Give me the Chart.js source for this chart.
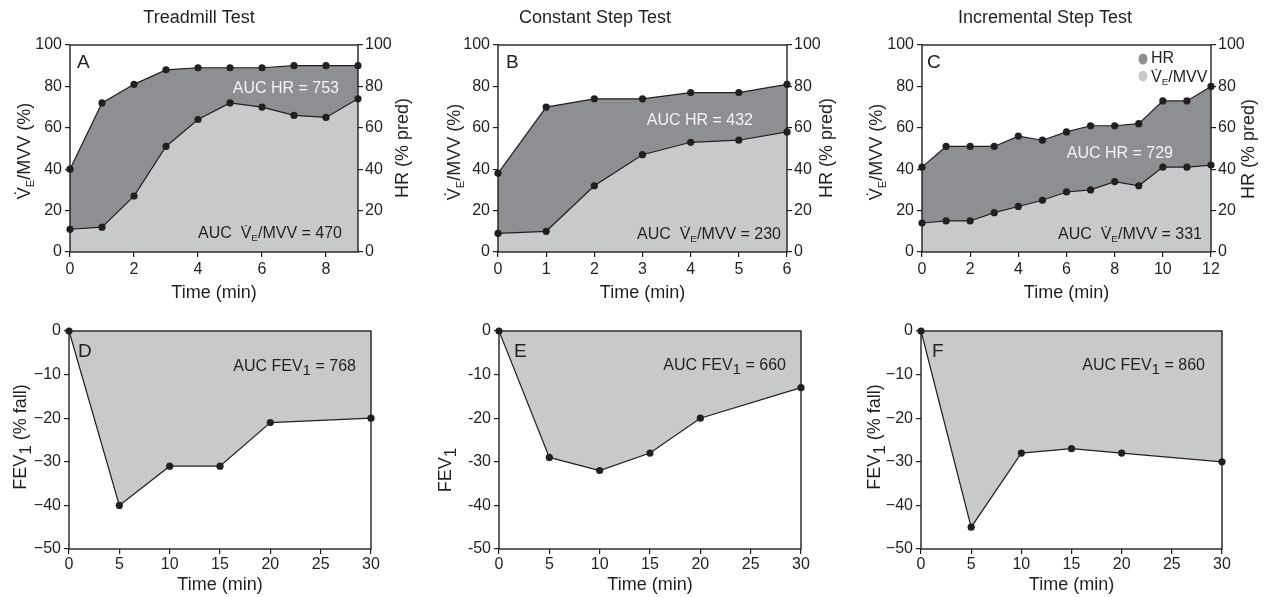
<!DOCTYPE html>
<html><head><meta charset="utf-8">
<script src="https://cdn.jsdelivr.net/npm/chart.js@4.4.1/dist/chart.umd.min.js"></script>
<style>
html,body{margin:0;padding:0;background:#fff;width:1273px;height:597px;overflow:hidden}
canvas{position:absolute;left:0;top:0}
</style></head><body>
<canvas id="cA" width="1273" height="597"></canvas>
<canvas id="cB" width="1273" height="597"></canvas>
<canvas id="cC" width="1273" height="597"></canvas>
<canvas id="cD" width="1273" height="597"></canvas>
<canvas id="cE" width="1273" height="597"></canvas>
<canvas id="cF" width="1273" height="597"></canvas>
<script>
// ---------- data ----------
const panelTitles = ['Treadmill Test', 'Constant Step Test', 'Incremental Step Test'];
const timeA = [0,1,2,3,4,5,6,7,8,9];
const hrA   = [40,72,81,88,89,89,89,90,90,90];
const veA   = [11,12,27,51,64,72,70,66,65,74];
const timeB = [0,1,2,3,4,5,6];
const hrB   = [38,70,74,74,77,77,81];
const veB   = [9,10,32,47,53,54,58];
const timeC = [0,1,2,3,4,5,6,7,8,9,10,11,12];
const hrC   = [41,51,51,51,56,54,58,61,61,62,73,73,80];
const veC   = [14,15,15,19,22,25,29,30,34,32,41,41,42];
const timeFev = [0,5,10,15,20,30];
const fevD = [0,-40,-31,-31,-21,-20];
const fevE = [0,-29,-32,-28,-20,-13];
const fevF = [0,-45,-28,-27,-28,-30];
const xTicksA = [0,2,4,6,8];
const xTicksB = [0,1,2,3,4,5,6];
const xTicksC = [0,2,4,6,8,10,12];
const xTicksFev = [0,5,10,15,20,25,30];
const yTicksTop = [0,20,40,60,80,100];
const yTicksFev = [0,-10,-20,-30,-40,-50];
const aucHR  = [753, 432, 729];
const aucVE  = [470, 230, 331];
const aucFEV = [768, 660, 860];

// ---------- style ----------
const W = 1273, H = 597;
const FONT = '"Liberation Sans", Arial, sans-serif';
const INK = '#231f20';
const DARK = '#8e8f92';
const LIGHT = '#c8c9cb';

function drawRich(ctx, segs, x, y, size, align, color, rot) {
  ctx.save();
  ctx.translate(x, y);
  if (rot) ctx.rotate(rot);
  ctx.fillStyle = color; ctx.textBaseline = 'alphabetic'; ctx.textAlign = 'left';
  const parts = segs.map(s => {
    const kind = typeof s === 'string' ? 'n' : s[1];
    const t = typeof s === 'string' ? s : s[0];
    const fs = kind === 's' ? size * 0.62 : kind === 'f' ? size * 0.95 : size;
    const dy = kind === 's' ? size * 0.2 : kind === 'f' ? size * 0.25 : 0;
    ctx.font = fs + 'px ' + FONT;
    return { t, fs, dy, w: ctx.measureText(t).width };
  });
  const total = parts.reduce((a, p) => a + p.w, 0);
  let cx = align === 'right' ? -total : align === 'center' ? -total / 2 : 0;
  for (const p of parts) { ctx.font = p.fs + 'px ' + FONT; ctx.fillText(p.t, cx, p.dy); cx += p.w; }
  ctx.restore();
}

const deco = {
  id: 'deco',
  afterDatasetsDraw(chart, args, opts) {
    const ctx = chart.ctx, a = chart.chartArea;
    ctx.save();
    ctx.strokeStyle = INK; ctx.lineWidth = 1.4;
    ctx.strokeRect(a.left, a.top, a.right - a.left, a.bottom - a.top);
    ctx.restore();
    (opts.legend || []).forEach(l => {
      ctx.save(); ctx.fillStyle = l.color; ctx.beginPath();
      ctx.ellipse(l.x, l.y, 4.5, 5.5, 0, 0, Math.PI * 2); ctx.fill(); ctx.restore();
    });
    (opts.texts || []).forEach(t => drawRich(ctx, t.segs, t.x, t.y, t.size, t.align, t.color || INK, t.rot || 0));
  }
};

function tickFmt(minus) {
  return v => (v < 0 ? (minus ? '\u2212' : '-') + Math.abs(v) : String(v));
}

function scaleY(pos, ticks, min, max, minus, width, pad) {
  return {
    type: 'linear', position: pos, min, max,
    afterBuildTicks: s => { s.ticks = ticks.map(v => ({ value: v })); },
    afterFit: s => { s.width = width; },
    grid: { display: true, drawOnChartArea: false, drawTicks: true, tickLength: 5, color: INK, lineWidth: 1.2 },
    border: { display: false },
    ticks: { color: INK, font: { family: FONT, size: 16 }, padding: pad, callback: tickFmt(minus) }
  };
}
function scaleX(ticks, max, pad) {
  return {
    type: 'linear', position: 'bottom', min: 0, max,
    afterBuildTicks: s => { s.ticks = ticks.map(v => ({ value: v })); },
    afterFit: s => { s.height = 40; },
    grid: { display: true, drawOnChartArea: false, drawTicks: true, tickLength: 5, color: INK, lineWidth: 1.2 },
    border: { display: false },
    ticks: { color: INK, font: { family: FONT, size: 16 }, padding: pad, maxRotation: 0, autoSkip: false }
  };
}
function series(xs, ys, fillColor) {
  return {
    data: xs.map((x, i) => ({ x, y: ys[i] })),
    fill: 'origin', backgroundColor: fillColor,
    borderColor: INK, borderWidth: 1.2,
    pointRadius: 3.6, pointBackgroundColor: INK, pointBorderWidth: 0,
    tension: 0, clip: false
  };
}

const VE = (v) => ['AUC  V\u0307', ['E', 's'], '/MVV = ' + v];

const topPanels = [
  { id: 'cA', i: 0, box: { l: 70, t: 45, r: 358, b: 252 }, times: timeA, hr: hrA, ve: veA, xTicks: xTicksA, xMax: 9,
    titleX: 199, letter: 'A', letterX: 77, leftX: 30, leftY: 151, rightX: 408, rightY: 148,
    hrPos: [339, 93], vePos: [342, 238] },
  { id: 'cB', i: 1, box: { l: 498, t: 45, r: 787, b: 252 }, times: timeB, hr: hrB, ve: veB, xTicks: xTicksB, xMax: 6,
    titleX: 595, letter: 'B', letterX: 506, leftX: 460, leftY: 152, rightX: 832, rightY: 148,
    hrPos: [753, 125], vePos: [781, 239] },
  { id: 'cC', i: 2, box: { l: 922, t: 45, r: 1211, b: 252 }, times: timeC, hr: hrC, ve: veC, xTicks: xTicksC, xMax: 12,
    titleX: 1045, letter: 'C', letterX: 927, leftX: 882, leftY: 152, rightX: 1254, rightY: 149,
    hrPos: [1173, 158], vePos: [1202, 239] }
];

topPanels.forEach(p => {
  const texts = [
    { segs: [panelTitles[p.i]], x: p.titleX, y: 23, size: 18, align: 'center' },
    { segs: [p.letter], x: p.letterX, y: 68, size: 19, align: 'left' },
    { segs: ['AUC HR = ' + aucHR[p.i]], x: p.hrPos[0], y: p.hrPos[1], size: 16, align: 'right', color: '#f4f4f4' },
    { segs: VE(aucVE[p.i]), x: p.vePos[0], y: p.vePos[1], size: 16, align: 'right' },
    { segs: ['V\u0307', ['E', 's'], '/MVV (%)'], x: p.leftX, y: p.leftY, size: 18, align: 'center', rot: -Math.PI / 2 },
    { segs: ['HR (% pred)'], x: p.rightX, y: p.rightY, size: 18, align: 'center', rot: -Math.PI / 2 },
    { segs: ['Time (min)'], x: (p.box.l + p.box.r) / 2, y: 298, size: 18, align: 'center' }
  ];
  let legend = [];
  if (p.letter === 'C') {
    legend = [{ x: 1143, y: 59, color: DARK }, { x: 1143, y: 76, color: LIGHT }];
    texts.push({ segs: ['HR'], x: 1151, y: 63, size: 16, align: 'left' });
    texts.push({ segs: ['V\u0307', ['E', 's'], '/MVV'], x: 1151, y: 82, size: 16, align: 'left' });
  }
  new Chart(document.getElementById(p.id), {
    type: 'line',
    data: { datasets: [series(p.times, p.ve, LIGHT), series(p.times, p.hr, DARK)] },
    options: {
      responsive: false, animation: false, events: [],
      layout: { padding: { left: p.box.l - 50, right: W - p.box.r - 50, top: p.box.t, bottom: H - p.box.b - 40 } },
      scales: {
        x: scaleX(p.xTicks, p.xMax, 3),
        y: scaleY('left', yTicksTop, 0, 100, false, 50, 3),
        y1: scaleY('right', yTicksTop, 0, 100, false, 50, 2)
      },
      plugins: { legend: { display: false }, tooltip: { enabled: false }, deco: { texts, legend } }
    },
    plugins: [deco]
  });
});

const botPanels = [
  { id: 'cD', i: 0, box: { l: 69, t: 331, r: 371, b: 549 }, fev: fevD, minus: true, letter: 'D', letterX: 78,
    leftX: 26, leftY: 437, full: true, fevPos: [356, 371] },
  { id: 'cE', i: 1, box: { l: 499, t: 331, r: 801, b: 549 }, fev: fevE, minus: false, letter: 'E', letterX: 514,
    leftX: 451, leftY: 470, full: false, fevPos: [786, 370] },
  { id: 'cF', i: 2, box: { l: 921, t: 331, r: 1222, b: 549 }, fev: fevF, minus: true, letter: 'F', letterX: 932,
    leftX: 880, leftY: 437, full: true, fevPos: [1205, 370] }
];

botPanels.forEach(p => {
  const texts = [
    { segs: [p.letter], x: p.letterX, y: 357, size: 19, align: 'left' },
    { segs: ['AUC FEV', ['1', 'f'], ' = ' + aucFEV[p.i]], x: p.fevPos[0], y: p.fevPos[1], size: 16, align: 'right' },
    { segs: p.full ? ['FEV', ['1', 'f'], ' (% fall)'] : ['FEV', ['1', 'f']], x: p.leftX, y: p.leftY, size: 18, align: 'center', rot: -Math.PI / 2 },
    { segs: ['Time (min)'], x: (p.box.l + p.box.r) / 2, y: 590, size: 18, align: 'center' }
  ];
  new Chart(document.getElementById(p.id), {
    type: 'line',
    data: { datasets: [series(timeFev, p.fev, LIGHT)] },
    options: {
      responsive: false, animation: false, events: [],
      layout: { padding: { left: p.box.l - 50, right: W - p.box.r, top: p.box.t, bottom: H - p.box.b - 40 } },
      scales: {
        x: scaleX(xTicksFev, 30, 1),
        y: scaleY('left', yTicksFev, -50, 0, p.minus, 50, 3)
      },
      plugins: { legend: { display: false }, tooltip: { enabled: false }, deco: { texts } }
    },
    plugins: [deco]
  });
});
</script>
</body></html>
